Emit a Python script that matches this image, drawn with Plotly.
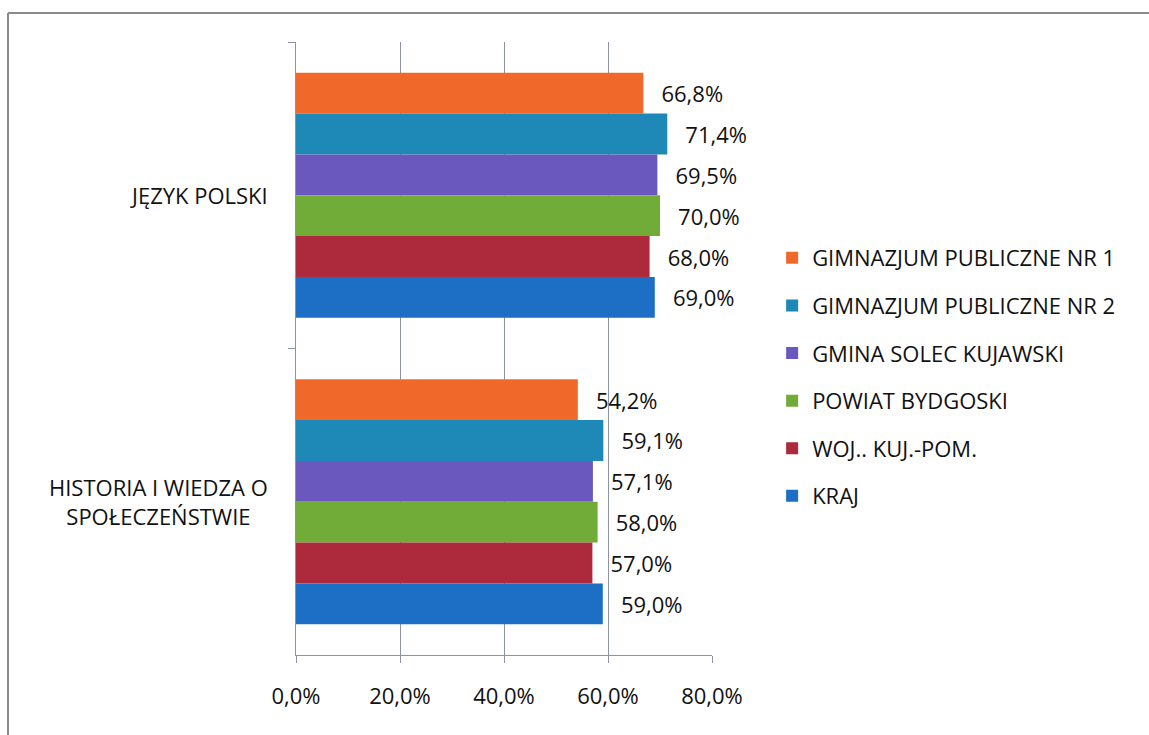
import plotly.graph_objects as go

categories = ["JĘZYK POLSKI", "HISTORIA I WIEDZA O SPOŁECZEŃSTWIE"]
category_labels = ["JĘZYK POLSKI", "HISTORIA I WIEDZA O<br>SPOŁECZEŃSTWIE"]
series_names = ["GIMNAZJUM PUBLICZNE NR 1", "GIMNAZJUM PUBLICZNE NR 2",
                "GMINA SOLEC KUJAWSKI", "POWIAT BYDGOSKI", "WOJ.. KUJ.-POM.", "KRAJ"]
gim1 = [66.8, 54.2]
gim2 = [71.4, 59.1]
gmina = [69.5, 57.1]
powiat = [70.0, 58.0]
woj = [68.0, 57.0]
kraj = [69.0, 59.0]
series_values = [gim1, gim2, gmina, powiat, woj, kraj]
colors = ["#F1682B", "#1E88B6", "#6A58BE", "#70AC37", "#AC2A3C", "#1C6FC4"]
tick_vals = [0, 0.2, 0.4, 0.6, 0.8]
tick_text = ["0,0%", "20,0%", "40,0%", "60,0%", "80,0%"]

FONT = "Open Sans"
TXT = "#111111"
GRID = "#8c93a3"

fig = go.Figure()
for name, vals, col in zip(series_names, series_values, colors):
    fig.add_trace(go.Bar(
        y=categories, x=[v / 100 for v in vals], orientation="h", name=name,
        legendgroup=name,
        marker=dict(color=col, line=dict(width=0)),
        text=["\u00a0\u00a0\u2009" + f"{v:.1f}%".replace(".", ",") for v in vals],
        textposition="outside", constraintext="none", cliponaxis=False,
        textfont=dict(family=FONT, size=22, color=TXT),
        hoverinfo="skip",
    ))

for cat, lab in zip(categories, category_labels):
    fig.add_annotation(x=0, xref="paper", y=cat, yref="y", text=lab,
                       xanchor="right", xshift=-26, align="center", showarrow=False,
                       font=dict(family=FONT, size=22, color=TXT))

# outer frame (scanned page border: top and left edges only)
fig.add_shape(type="line", xref="paper", yref="paper",
              x0=(8 - 296) / 416, x1=(1149 - 296) / 416,
              y0=(655 - 13) / 613, y1=(655 - 13) / 613,
              line=dict(color="#8a8a8a", width=2))
fig.add_shape(type="line", xref="paper", yref="paper",
              x0=(8 - 296) / 416, x1=(8 - 296) / 416,
              y0=(655 - 13) / 613, y1=(655 - 735) / 613,
              line=dict(color="#8a8a8a", width=2))

fig.update_layout(
    width=1149, height=735,
    margin=dict(l=296, r=437, t=42, b=80),
    paper_bgcolor="white", plot_bgcolor="white",
    barmode="group", bargap=0.2, bargroupgap=0,
    showlegend=True,
    legend=dict(xref="container", yref="container", x=0.672, y=0.487,
                xanchor="left", yanchor="middle", tracegroupgap=16,
                font=dict(family=FONT, size=22, color=TXT),
                bgcolor="rgba(0,0,0,0)"),
    font=dict(family=FONT, size=22, color=TXT),
    xaxis=dict(range=[0, 0.8], tickvals=tick_vals, ticktext=tick_text,
               showgrid=True, gridcolor=GRID, gridwidth=1.3,
               showline=True, linecolor=GRID, linewidth=1.3,
               ticks="outside", ticklen=7, tickcolor=GRID, tickwidth=1.3,
               ticklabelstandoff=14, zeroline=False,
               tickfont=dict(family=FONT, size=22, color=TXT)),
    yaxis=dict(autorange="reversed", type="category",
               showline=True, linecolor=GRID, linewidth=1.3,
               ticks="outside", ticklen=7, tickcolor=GRID, tickwidth=1.3,
               tickson="boundaries", showticklabels=False, showgrid=False),
)

fig.write_html("out.html", config={"displayModeBar": False},
               post_script="document.body.style.margin='0';document.body.style.overflow='hidden';")
